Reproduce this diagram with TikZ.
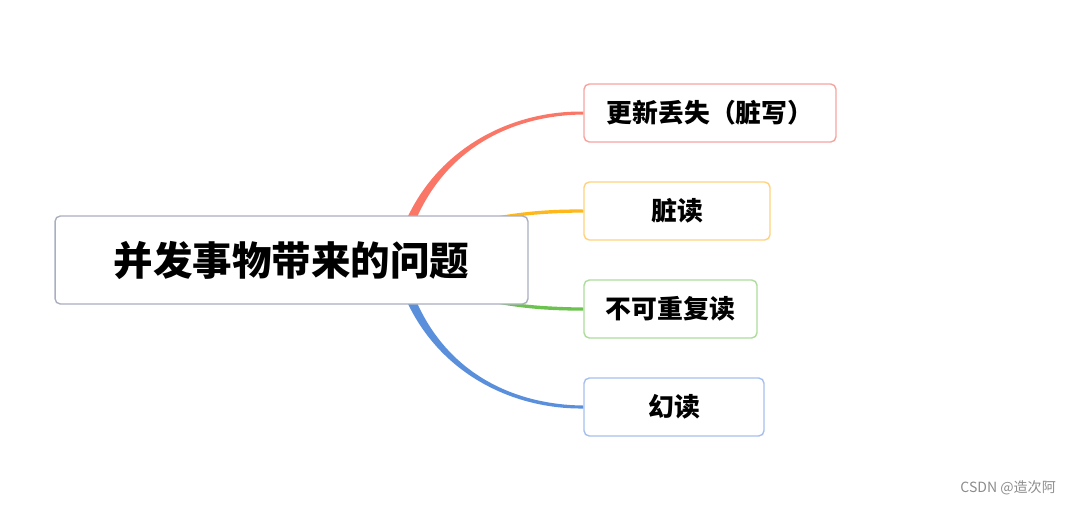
\documentclass[tikz,border=0pt]{standalone}
\usepackage{fontspec}
\newfontfamily\cjk{Noto Sans CJK SC}
\usepackage{xcolor}
\usetikzlibrary{calc,backgrounds}

\definecolor{redline}{HTML}{FA7767}
\definecolor{yellowline}{HTML}{FFB81C}
\definecolor{greenline}{HTML}{6CC24F}
\definecolor{blueline}{HTML}{5A8FDB}
\definecolor{redbox}{HTML}{F6A4A0}
\definecolor{yellowbox}{HTML}{FFD27D}
\definecolor{greenbox}{HTML}{AEDC9A}
\definecolor{bluebox}{HTML}{A6BFEF}
\definecolor{rootbox}{HTML}{A9AFBE}

\begin{document}
\begin{tikzpicture}[
  x=0.02cm, y=-0.02cm,
  region/.style={draw, fill=white, rounded corners=3pt, line width=0.8pt,
    minimum height=1.16cm, inner sep=0pt,
    font=\cjk\bfseries\fontsize{14.7}{18}\selectfont},
  root/.style={region, draw=rootbox, minimum width=9.46cm, minimum height=1.76cm,
    font=\cjk\bfseries\fontsize{22.5}{27}\selectfont},
  leaf/.style={region, draw=#1},
  watermark/.style={font=\cjk\fontsize{8}{10}\selectfont, text=black!45},
]
\useasboundingbox (0,0) rectangle (1077,505);

% root and the four branches
\node[root] (root) at (291.5,260) {并发事物带来的问题};
\node[leaf=redbox,    minimum width=5.04cm] (b1) at (710,113)   {更新丢失（脏写）};
\node[leaf=yellowbox, minimum width=3.72cm] (b2) at (677,211)   {脏读};
\node[leaf=greenbox,  minimum width=3.46cm] (b3) at (670.5,309) {不可重复读};
\node[leaf=bluebox,   minimum width=3.60cm] (b4) at (674,407)   {幻读};
\coordinate (hub) at (398,260);

% tapered connectors, behind the boxes
\begin{scope}[on background layer]
\foreach \tgt/\col/\ca/\cb/\s in {b1/redline/{420,160}/{500,113}/1,
    b2/yellowline/{450,217}/{530,211}/1,
    b3/greenline/{450,303}/{530,309}/-1,
    b4/blueline/{420,360}/{500,407}/-1}
  \fill[\col] ($(hub)+(-5,0)$) .. controls ($(\ca)+(-5,0)$) and ($(\cb)+(0,-2.4*\s)$)
    .. ($(\tgt.west)+(0,-1.5*\s)$) -- ($(\tgt.west)+(0,1.5*\s)$)
    .. controls ($(\cb)+(0,2.4*\s)$) and ($(\ca)+(5,0)$) .. ($(hub)+(5,0)$) -- cycle;
\end{scope}

\node[watermark, anchor=east] (wm) at (1062,488) {CSDN @造次阿};
\end{tikzpicture}
\end{document}
